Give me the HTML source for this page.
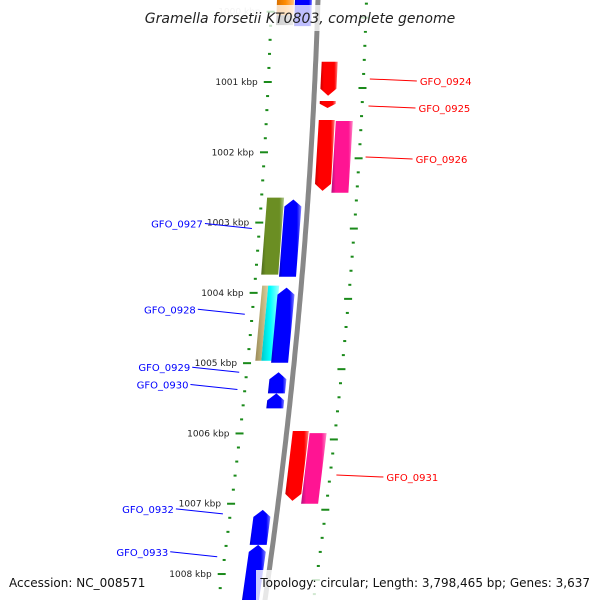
<!DOCTYPE html>
<html><head><meta charset="utf-8"><style>
html,body{margin:0;padding:0;background:#fff;width:600px;height:600px;overflow:hidden}
svg{display:block;font-family:"DejaVu Sans","Liberation Sans",sans-serif}
</style></head><body>
<svg id="chart" width="600" height="600" viewBox="0 0 600 600" xmlns="http://www.w3.org/2000/svg">
<defs>
<linearGradient id="gblue" x1="0" x2="1"><stop offset="0" stop-color="#0000c8"/><stop offset="0.15" stop-color="#0000ff"/><stop offset="0.8" stop-color="#0000ff"/><stop offset="1" stop-color="#8080ff"/></linearGradient>
<linearGradient id="gred" x1="0" x2="1"><stop offset="0" stop-color="#c80000"/><stop offset="0.2" stop-color="#ff0000"/><stop offset="0.8" stop-color="#ff0000"/><stop offset="1" stop-color="#ff8080"/></linearGradient>
<linearGradient id="gpink" x1="0" x2="1"><stop offset="0" stop-color="#b0107a"/><stop offset="0.2" stop-color="#ff1493"/><stop offset="0.8" stop-color="#ff1493"/><stop offset="1" stop-color="#ff8ac8"/></linearGradient>
<linearGradient id="golive" x1="0" x2="1"><stop offset="0" stop-color="#4e6a1c"/><stop offset="0.2" stop-color="#6b8e23"/><stop offset="0.8" stop-color="#6b8e23"/><stop offset="1" stop-color="#b0c890"/></linearGradient>
<linearGradient id="gtan" x1="0" x2="1"><stop offset="0" stop-color="#9a8a5a"/><stop offset="0.5" stop-color="#bdb076"/><stop offset="1" stop-color="#d8d0a8"/></linearGradient>
<linearGradient id="gcyan" x1="0" x2="1"><stop offset="0" stop-color="#00c8c8"/><stop offset="0.5" stop-color="#00ffff"/><stop offset="1" stop-color="#a0ffff"/></linearGradient>
<linearGradient id="ggrey" x1="0" x2="1"><stop offset="0" stop-color="#444"/><stop offset="0.5" stop-color="#666"/><stop offset="1" stop-color="#aaa"/></linearGradient>
<linearGradient id="gorange" x1="0" x2="1"><stop offset="0" stop-color="#d87000"/><stop offset="0.5" stop-color="#ff8c00"/><stop offset="1" stop-color="#ffc080"/></linearGradient>
<linearGradient id="gbb" x1="0" x2="1"><stop offset="0" stop-color="#555"/><stop offset="0.5" stop-color="#999"/><stop offset="1" stop-color="#ccc"/></linearGradient>
</defs>
<g id="ticks"></g>
<g id="genes"></g>
<g id="labels"></g>
</svg>
<script>
// ---- data ----
const kbpTicks = [1000,1001,1002,1003,1004,1005,1006,1007,1008];
const geneNames = ["top-orange","top-grey","top-blue","GFO_0924","GFO_0925","GFO_0926","GFO_0926b","GFO_0931","GFO_0931b","GFO_0927","GFO_0927b","GFO_0928","GFO_0928b","GFO_0928c","GFO_0929","GFO_0930","GFO_0932","GFO_0933"];
const geneStart = [999.600,1000.050,999.600,1000.712,1001.270,1001.540,1001.555,1005.965,1005.995,1002.644,1002.672,1003.897,1003.897,1003.925,1005.130,1005.430,1007.087,1007.585];
const geneEnd   = [1000.050,1000.190,1000.205,1001.197,1001.370,1002.550,1002.575,1006.960,1007.000,1003.740,1003.770,1004.965,1004.965,1004.995,1005.430,1005.643,1007.585,1008.400];
const geneLane  = [-2,-2,-1,1,1,1,2,1,2,-2,-1,-3,-2,-1,-1,-1,-1,-1];
const geneColor = ["gorange","ggrey","gblue","gred","gred","gred","gpink","gred","gpink","golive","gblue","gtan","gcyan","gblue","gblue","gblue","gblue","gblue"];
const geneArrow = [0,0,0,1,1,1,0,1,0,0,-1,0,0,-1,-1,-1,-1,-1];
const labelNames = ["GFO_0924","GFO_0925","GFO_0926","GFO_0931","GFO_0927","GFO_0928","GFO_0929","GFO_0930","GFO_0932","GFO_0933"];
const labelSide  = [1,1,1,1,-1,-1,-1,-1,-1,-1];
const labelKbp   = [1000.985,1001.370,1002.095,1006.620,1003.070,1004.290,1005.115,1005.360,1007.130,1007.740];

// ---- scales ----
const Y = k => 82 + (k - 1001) * 70.29;
const B = y => 318 - 0.0317*y - 0.0000944*y*y;
const lanes = {"-3":[-39,-33],"-2":[-41,-24],"-1":[-23,-6],"1":[6,22],"2":[23,40]};
const laneOverride = {"gcyan":[-33,-22],"gtan":[-39,-33]};
const NS="http://www.w3.org/2000/svg";
function mk(tag,attrs,parent){const e=document.createElementNS(NS,tag);for(const k in attrs)e.setAttribute(k,attrs[k]);parent.appendChild(e);return e;}
const gT=document.getElementById('ticks'),gG=document.getElementById('genes'),gL=document.getElementById('labels');

// backbone
let d="";for(let y=-5;y<=605;y+=5){d+=(y==-5?"M":"L")+B(y).toFixed(1)+","+y+" ";}
const bb=mk('path',{d:d,stroke:'#888','stroke-width':5,fill:'none'},gT);



// dotted scale lines
for(let k=999.4;k<=1008.6;k+=0.2){
  const kr=Math.round(k*10)/10;const y=Y(kr);
  const major=Math.abs(kr-Math.round(kr))<0.01;
  const xl=B(y)-47;
  const t=mk('rect',{x:major?xl-4:xl-1,y:y-1,width:major?8:3,height:2,fill:'#1a8a1a'},gT);
  
  
  const y2=y+6;const xr=B(y2)+48;
  const t2=mk('rect',{x:major?xr-4:xr-1,y:y2-1,width:major?8:3,height:2,fill:'#1a8a1a'},gT);
  
  
}
kbpTicks.forEach(k=>{
  const y=Y(k);
  const tx=mk('text',{x:B(y)-57,y:y+3,'font-size':9,fill:k==1000?'#ccc':'#222','text-anchor':'end'},gT);
  tx.textContent=k+" kbp";
  
  
});

// genes
geneNames.forEach((n,i)=>{
  const t=Y(geneStart[i]),e=Y(geneEnd[i]);
  const ln=laneOverride[geneColor[i]]||lanes[geneLane[i]];
  const o1=ln[0],o2=ln[1],om=(o1+o2)/2;
  const h=Math.min(7,(e-t)*0.6);let pts;
  if(geneArrow[i]==1){pts=[[B(t)+o1,t],[B(t)+o2,t],[B(e-h)+o2,e-h],[B(e)+om,e],[B(e-h)+o1,e-h]];}
  else if(geneArrow[i]==-1){pts=[[B(t)+om,t],[B(t+h)+o2,t+h],[B(e)+o2,e],[B(e)+o1,e],[B(t+h)+o1,t+h]];}
  else{pts=[[B(t)+o1,t],[B(t)+o2,t],[B(e)+o2,e],[B(e)+o1,e]];}
  const p=mk('polygon',{points:pts.map(q=>q[0].toFixed(1)+","+q[1].toFixed(1)).join(" "),fill:'url(#'+geneColor[i]+')'},gG);
  
  
});

// labels
labelNames.forEach((n,i)=>{
  const y=Y(labelKbp[i]);const s=labelSide[i];const col=s>0?'#f00':'#00f';
  let x1,x2,tx;
  if(s>0){x1=B(y)+55;x2=x1+47;tx=x2+3;}else{x2=B(y)-54;x1=x2-47;tx=x1-2;}
  const l=mk('line',{x1:x1,y1:s>0?y-2:y-4,x2:x2,y2:s>0?y:y+1,stroke:col,'stroke-width':1},gL);
  
  
  const t=mk('text',{x:tx,y:(s>0?y:y-4)+4,'font-size':10,fill:col,'text-anchor':s>0?'start':'end'},gL);
  t.textContent=n;
  
  
});

// overlays and captions
const ov1=mk('rect',{x:145,y:5,width:310,height:26,fill:'#fff','fill-opacity':0.75},gL);


const ti=mk('text',{x:300,y:23,'font-size':14,'font-style':'italic',fill:'#222','text-anchor':'middle'},gL);
ti.textContent="Gramella forsetii KT0803, complete genome";


const ov2=mk('rect',{x:256,y:570,width:344,height:30,fill:'#fff','fill-opacity':0.8},gL);


const ac=mk('text',{x:9,y:587,'font-size':12,fill:'#111'},gL);
ac.textContent="Accession: NC_008571";


const tp=mk('text',{x:590,y:587,'font-size':12,fill:'#111','text-anchor':'end'},gL);
tp.textContent="Topology: circular; Length: 3,798,465 bp; Genes: 3,637";


</script>
</body></html>
